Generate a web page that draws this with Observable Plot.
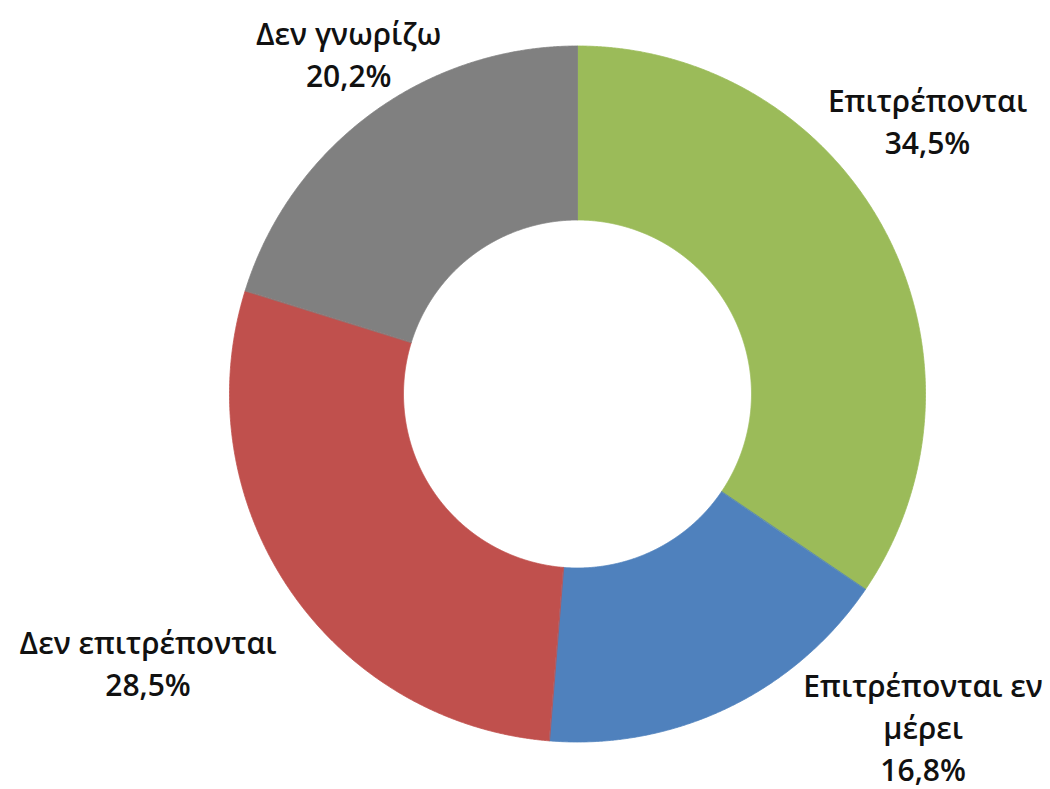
<!DOCTYPE html>
<html>
<head>
<meta charset="utf-8">
<script src="https://cdn.jsdelivr.net/npm/d3@7"></script>
<script src="https://cdn.jsdelivr.net/npm/@observablehq/plot@0.6"></script>
<style>
  html, body { margin: 0; padding: 0; background: #ffffff; }
  #chart svg { display: block; }
</style>
</head>
<body>
<div id="chart"></div>
<script>
// ---- Data ----
const categories = ["Επιτρέπονται", "Επιτρέπονται εν μέρει", "Δεν επιτρέπονται", "Δεν γνωρίζω"];
const labelTexts = ["Επιτρέπονται", "Επιτρέπονται εν\nμέρει", "Δεν επιτρέπονται", "Δεν γνωρίζω"];
const values = [34.5, 16.8, 28.5, 20.2];
const valueLabels = ["34,5%", "16,8%", "28,5%", "20,2%"];
const colors = ["#9BBB59", "#4F81BD", "#C0504D", "#808080"];

// ---- Layout (drawing parameters, not data) ----
const W = 1050, H = 789;
const cx = 577, cy = 393.5, R = 348;
const innerRatio = 0.5;
// label placement tweaks (polar, relative to slice mid-angle), mimicking Excel "best fit"
const labelAngleShift = [-10.2, -20.6, 2.1, 2.5];   // degrees
const labelRadius = [1.278, 1.377, 1.454, 1.18];   // in units of outer radius

const arcs = d3.pie().sort(null).value(d => d)(values);

const ringPoints = arcs.flatMap((arc, i) => {
  const span = arc.endAngle - arc.startAngle;
  const n = Math.max(2, Math.ceil(span / 0.004));
  const angles = d3.range(n + 1).map(k => arc.startAngle + span * k / n);
  const outer = angles.map(a => ({category: categories[i], x: Math.sin(a), y: Math.cos(a)}));
  const inner = angles.slice().reverse().map(a => ({category: categories[i], x: innerRatio * Math.sin(a), y: innerRatio * Math.cos(a)}));
  return [...outer, ...inner];
});

const labelRows = arcs.map((arc, i) => {
  const mid = (arc.startAngle + arc.endAngle) / 2 + labelAngleShift[i] * Math.PI / 180;
  return {
    category: categories[i],
    text: labelTexts[i] + "\n" + valueLabels[i],
    x: labelRadius[i] * Math.sin(mid),
    y: labelRadius[i] * Math.cos(mid)
  };
});

const chart = Plot.plot({
  width: W,
  height: H,
  margin: 0,
  style: {background: "#ffffff"},
  x: {domain: [-1, 1], range: [cx - R, cx + R], axis: null},
  y: {domain: [-1, 1], range: [cy + R, cy - R], axis: null},
  color: {domain: categories, range: colors},
  marks: [
    Plot.line(ringPoints, {
      x: "x", y: "y", z: "category",
      fill: "category", stroke: "category", strokeWidth: 0.8,
      curve: "linear-closed"
    }),
    Plot.text(labelRows, {
      x: "x", y: "y", text: "text",
      fontSize: 30,
      fontWeight: 600,
      fontFamily: "'Open Sans', 'Noto Sans', sans-serif",
      lineHeight: 1.4,
      fill: "#111111",
      textAnchor: "middle",
      lineAnchor: "middle"
    })
  ]
});

document.getElementById("chart").appendChild(chart);
</script>
</body>
</html>
